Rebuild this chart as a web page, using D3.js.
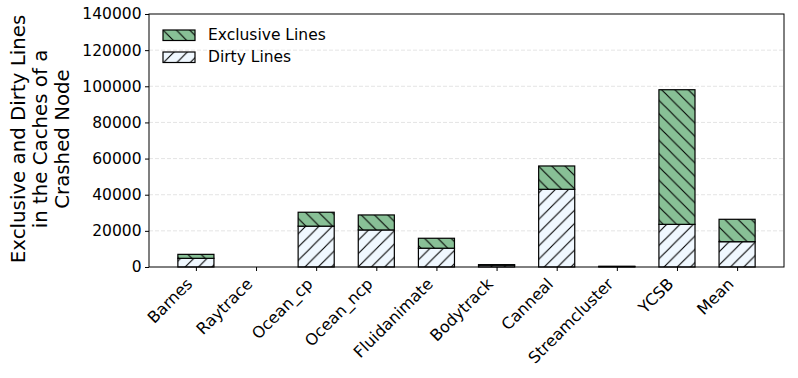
<!DOCTYPE html>
<html><head><meta charset="utf-8">
<script src="https://cdn.jsdelivr.net/npm/d3@7/dist/d3.min.js"></script>
<style>body{margin:0;background:#fff}svg{font-family:"DejaVu Sans",sans-serif}</style>
</head><body><svg id="c" width="798" height="378"></svg>
<script>
const categories = ["Barnes","Raytrace","Ocean_cp","Ocean_ncp","Fluidanimate","Bodytrack","Canneal","Streamcluster","YCSB","Mean"];
const dirtyLines = [4800, 0, 22600, 20500, 10400, 1000, 43000, 250, 23600, 14000];
const exclusiveLines = [2200, 0, 7700, 8300, 5500, 300, 12900, 150, 74500, 12400];
const yTicks = [0,20000,40000,60000,80000,100000,120000,140000];
const seriesNames = ["Exclusive Lines","Dirty Lines"];

const svg = d3.select("#c");
const L=149, R=784, T=14, B=267;
const x = d3.scaleLinear().domain([-0.78, 9.78]).range([L,R]);
const y = d3.scaleLinear().domain([0,140000]).range([B,T]);
const bw = x(0.6)-x(0);

const defs = svg.append("defs");
function pat(id, fill, dir){
  const s = 13.3;
  const p = defs.append("pattern").attr("id",id).attr("patternUnits","userSpaceOnUse").attr("width",s).attr("height",s);
  p.append("rect").attr("width",s).attr("height",s).attr("fill",fill);
  const d = dir==="back"
    ? `M-3,-3 L${s+3},${s+3} M-3,${s-3} L3,${s+3} M${s-3},-3 L${s+3},3`
    : `M-3,${s+3} L${s+3},-3 M-3,3 L3,-3 M${s-3},${s+3} L${s+3},${s-3}`;
  p.append("path").attr("d",d).attr("stroke","#000").attr("stroke-width",1.1);
}
pat("hx","#88c096","back");
pat("hd","#f0f8ff","fwd");

// grid
svg.append("g").selectAll("line").data(yTicks.slice(1,-1)).join("line")
  .attr("x1",L).attr("x2",R).attr("y1",d=>y(d)).attr("y2",d=>y(d))
  .attr("stroke","#dddddd").attr("stroke-width",0.8).attr("stroke-dasharray","4,2");

// bars
const g = svg.append("g");
categories.forEach((c,i)=>{
  const d = dirtyLines[i], e = exclusiveLines[i];
  g.append("rect").attr("x",x(i)-bw/2).attr("width",bw).attr("y",y(d)).attr("height",y(0)-y(d))
    .attr("fill","url(#hd)").attr("stroke","#000").attr("stroke-width",1.2);
  g.append("rect").attr("x",x(i)-bw/2).attr("width",bw).attr("y",y(d+e)).attr("height",y(d)-y(d+e))
    .attr("fill","url(#hx)").attr("stroke","#000").attr("stroke-width",1.2);
});

// axes
const ya = svg.append("g").attr("transform",`translate(${L},0)`)
  .call(d3.axisLeft(y).tickValues(yTicks).tickFormat(d3.format("d")).tickSize(4).tickPadding(3.5));
ya.select(".domain").remove();
ya.selectAll("text").attr("font-size",15.5).attr("fill","#000").attr("font-family","DejaVu Sans");
const xa = svg.append("g").attr("transform",`translate(0,${B})`)
  .call(d3.axisBottom(x).tickValues(d3.range(categories.length)).tickFormat(i=>categories[i]).tickSize(4));
xa.select(".domain").remove();
xa.selectAll("text").attr("font-size",16).attr("fill","#000").attr("font-family","DejaVu Sans")
  .attr("text-anchor","end").attr("dy",null).attr("y",0)
  .attr("transform","translate(-3,18) rotate(-45)");
svg.append("rect").attr("x",L).attr("y",T).attr("width",R-L).attr("height",B-T)
  .attr("fill","none").attr("stroke","#000").attr("stroke-width",1);

// y label
const yl = svg.append("text").attr("transform","translate(40,139) rotate(-90)")
  .attr("text-anchor","middle").attr("font-size",19.8).attr("fill","#000");
["Exclusive and Dirty Lines","in the Caches of a","Crashed Node"].forEach((t,k)=>{
  yl.append("tspan").attr("x",0).attr("y",(k-1)*22 + 7).text(t);
});

// legend
const lg = svg.append("g");
seriesNames.forEach((n,k)=>{
  const yy = 30 + k*22;
  lg.append("rect").attr("x",163).attr("y",yy).attr("width",32).attr("height",10.5)
    .attr("fill", k===0?"url(#hx)":"url(#hd)").attr("stroke","#000").attr("stroke-width",1.2);
  lg.append("text").attr("x",208).attr("y",yy+10).attr("font-size",15.5).attr("fill","#000").text(n);
});
</script></body></html>
